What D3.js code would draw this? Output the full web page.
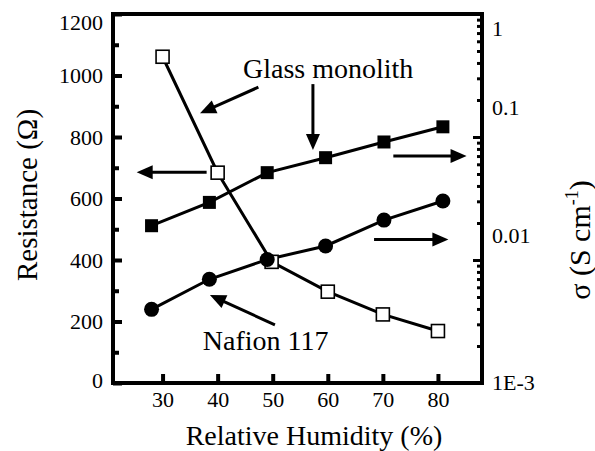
<!DOCTYPE html>
<html>
<head>
<meta charset="utf-8">
<script src="https://cdn.jsdelivr.net/npm/d3@7"></script>
<style>
  html, body { margin: 0; padding: 0; background: #fff; }
  svg { display: block; }
</style>
</head>
<body>
<svg id="chart" width="595" height="451"></svg>
<script>
// Relative humidity (%) for each series
const humidityResistance = [30, 40, 49.8, 60, 70, 80];
const humidityConductivity = [28, 38.5, 49, 59.6, 70.2, 80.9];

// Glass monolith resistance (Ω), left axis
const glassResistance = [1061, 684, 394, 297, 223, 169];
// Glass monolith conductivity (S cm^-1), right axis
const glassConductivity = [0.0190, 0.0294, 0.0513, 0.0679, 0.0911, 0.121];
// Nafion 117 conductivity (S cm^-1), right axis
const nafionConductivity = [0.00397, 0.00697, 0.0101, 0.0130, 0.0211, 0.0302];

// Axis ticks
const xTicks = [30, 40, 50, 60, 70, 80];
const leftTicks = [0, 200, 400, 600, 800, 1000, 1200];
const leftMinorTicks = [100, 300, 500, 700, 900, 1100];
const rightTicks = [0.001, 0.01, 0.1, 1];
const rightTickLabels = ["1E-3", "0.01", "0.1", "1"];

// Annotation arrows, in data units (humidity, resistance)
const arrowTails = [[47.4, 962], [57.3, 972], [38.0, 685], [71.9, 738], [68.4, 467], [50.4, 189]];
const arrowTips  = [[36.8, 877], [57.3, 758], [25.3, 685], [85.2, 738], [81.9, 467], [38.6, 286]];

// Series labels, in data units (humidity, resistance)
const labelTexts = ["Glass monolith", "Nafion 117"];
const labelAnchors = [[44.6, 991], [37.3, 107]];

const FONT = '"Liberation Serif"';
const svg = d3.select("#chart");
const plotLeft = 113, plotRight = 482, plotTop = 14, plotBottom = 383;

const x = d3.scaleLinear().domain([21, 88]).range([plotLeft, plotRight]);
const yL = d3.scaleLinear().domain([0, 1200]).range([plotBottom, plotTop]);
const yR = d3.scaleLog().domain([0.001, 1]).range([plotBottom, plotTop]);

// ---- axes ----
function styleAxis(g, width) {
  g.attr("font-family", null).attr("font-size", null);
  g.select(".domain").remove();
  g.selectAll(".tick line").attr("stroke", "#000").attr("stroke-width", width);
  g.selectAll("text").style("font-family", FONT).style("font-size", "22px").attr("fill", "#000");
}

// bottom
svg.append("g").attr("transform", `translate(0,${plotBottom})`)
  .call(d3.axisBottom(x).tickValues(xTicks).tickSizeInner(-9).tickSizeOuter(0).tickPadding(8))
  .call(g => styleAxis(g, 4));

// left, major + minor
svg.append("g").attr("transform", `translate(${plotLeft},0)`)
  .call(d3.axisLeft(yL).tickValues(leftTicks).tickFormat(d3.format("d"))
    .tickSizeInner(-9).tickSizeOuter(0).tickPadding(10))
  .call(g => styleAxis(g, 4))
  .call(g => g.selectAll(".tick text")
    .attr("y", d => Math.min(Math.max(yL(d), plotTop + 8), plotBottom - 3) - yL(d)));
svg.append("g").attr("transform", `translate(${plotLeft},0)`)
  .call(d3.axisLeft(yL).tickValues(leftMinorTicks).tickSizeInner(-6).tickSizeOuter(0).tickFormat(""))
  .call(g => styleAxis(g, 4));

// right, log: decades + minor ticks
const rightMinor = [];
[0.001, 0.01, 0.1].forEach(d => { for (let k = 2; k <= 9; k++) rightMinor.push(d * k); });
const labelShift = { "1": 14, "0.1": -30, "0.01": -25, "1E-3": -1 };
svg.append("g").attr("transform", `translate(${plotRight},0)`)
  .call(d3.axisRight(yR).tickValues(rightTicks).tickSizeInner(-9).tickSizeOuter(0).tickPadding(10)
    .tickFormat(d => rightTickLabels[rightTicks.indexOf(d)]))
  .call(g => styleAxis(g, 3))
  .call(g => g.selectAll(".tick text").attr("y", function() { return labelShift[this.textContent] || 0; }));
svg.append("g").attr("transform", `translate(${plotRight},0)`)
  .call(d3.axisRight(yR).tickValues(rightMinor).tickSizeInner(-5).tickSizeOuter(0).tickFormat(""))
  .call(g => styleAxis(g, 3));

// frame
svg.append("rect")
  .attr("x", plotLeft).attr("y", plotTop)
  .attr("width", plotRight - plotLeft).attr("height", plotBottom - plotTop)
  .attr("fill", "none").attr("stroke", "#000").attr("stroke-width", 4);

// ---- series ----
function drawLine(xs, ys, yScale) {
  const pts = xs.map((v, i) => [x(v), yScale(ys[i])]);
  svg.append("path").datum(pts)
    .attr("d", d3.line())
    .attr("fill", "none").attr("stroke", "#000").attr("stroke-width", 3);
  return pts;
}

const openPts = drawLine(humidityResistance, glassResistance, yL);
const sqPts = drawLine(humidityConductivity, glassConductivity, yR);
const circPts = drawLine(humidityConductivity, nafionConductivity, yR);

const s = 13;
svg.append("g").selectAll("rect").data(openPts).join("rect")
  .attr("x", d => d[0] - s / 2).attr("y", d => d[1] - s / 2)
  .attr("width", s).attr("height", s)
  .attr("fill", "#fff").attr("stroke", "#000").attr("stroke-width", 1.6);
svg.append("g").selectAll("rect").data(sqPts).join("rect")
  .attr("x", d => d[0] - s / 2).attr("y", d => d[1] - s / 2)
  .attr("width", s).attr("height", s).attr("fill", "#000");
svg.append("g").selectAll("circle").data(circPts).join("circle")
  .attr("cx", d => d[0]).attr("cy", d => d[1]).attr("r", 7.5).attr("fill", "#000");

// ---- arrows ----
const headLen = 16, headHalf = 7;
arrowTails.forEach((t, i) => {
  const x1 = x(t[0]), y1 = yL(t[1]);
  const x2 = x(arrowTips[i][0]), y2 = yL(arrowTips[i][1]);
  const ang = Math.atan2(y2 - y1, x2 - x1);
  const bx = x2 - headLen * Math.cos(ang), by = y2 - headLen * Math.sin(ang);
  svg.append("line")
    .attr("x1", x1).attr("y1", y1).attr("x2", bx + Math.cos(ang)).attr("y2", by + Math.sin(ang))
    .attr("stroke", "#000").attr("stroke-width", 3);
  const px = -Math.sin(ang) * headHalf, py = Math.cos(ang) * headHalf;
  svg.append("polygon")
    .attr("points", [[x2, y2], [bx + px, by + py], [bx - px, by - py]].map(p => p.join(",")).join(" "))
    .attr("fill", "#000");
});

// ---- series labels ----
labelTexts.forEach((txt, i) => {
  svg.append("text")
    .attr("x", x(labelAnchors[i][0])).attr("y", yL(labelAnchors[i][1]))
    .style("font-family", FONT).style("font-size", "28px").text(txt);
});

// ---- axis titles ----
svg.append("text")
  .attr("x", 314).attr("y", 445).attr("text-anchor", "middle")
  .style("font-family", FONT).style("font-size", "28px").text("Relative Humidity (%)");

svg.append("text")
  .attr("transform", "translate(37,195) rotate(-90)")
  .attr("text-anchor", "middle")
  .style("font-family", FONT).style("font-size", "29px").text("Resistance (Ω)");

const sig = svg.append("text")
  .attr("transform", "translate(590,240) rotate(-90)")
  .attr("text-anchor", "middle")
  .style("font-family", FONT).style("font-size", "30px");
sig.append("tspan").text("σ (S cm");
sig.append("tspan").attr("dy", -12).style("font-size", "18px").text("-1");
sig.append("tspan").attr("dy", 12).text(")");
</script>
</body>
</html>
